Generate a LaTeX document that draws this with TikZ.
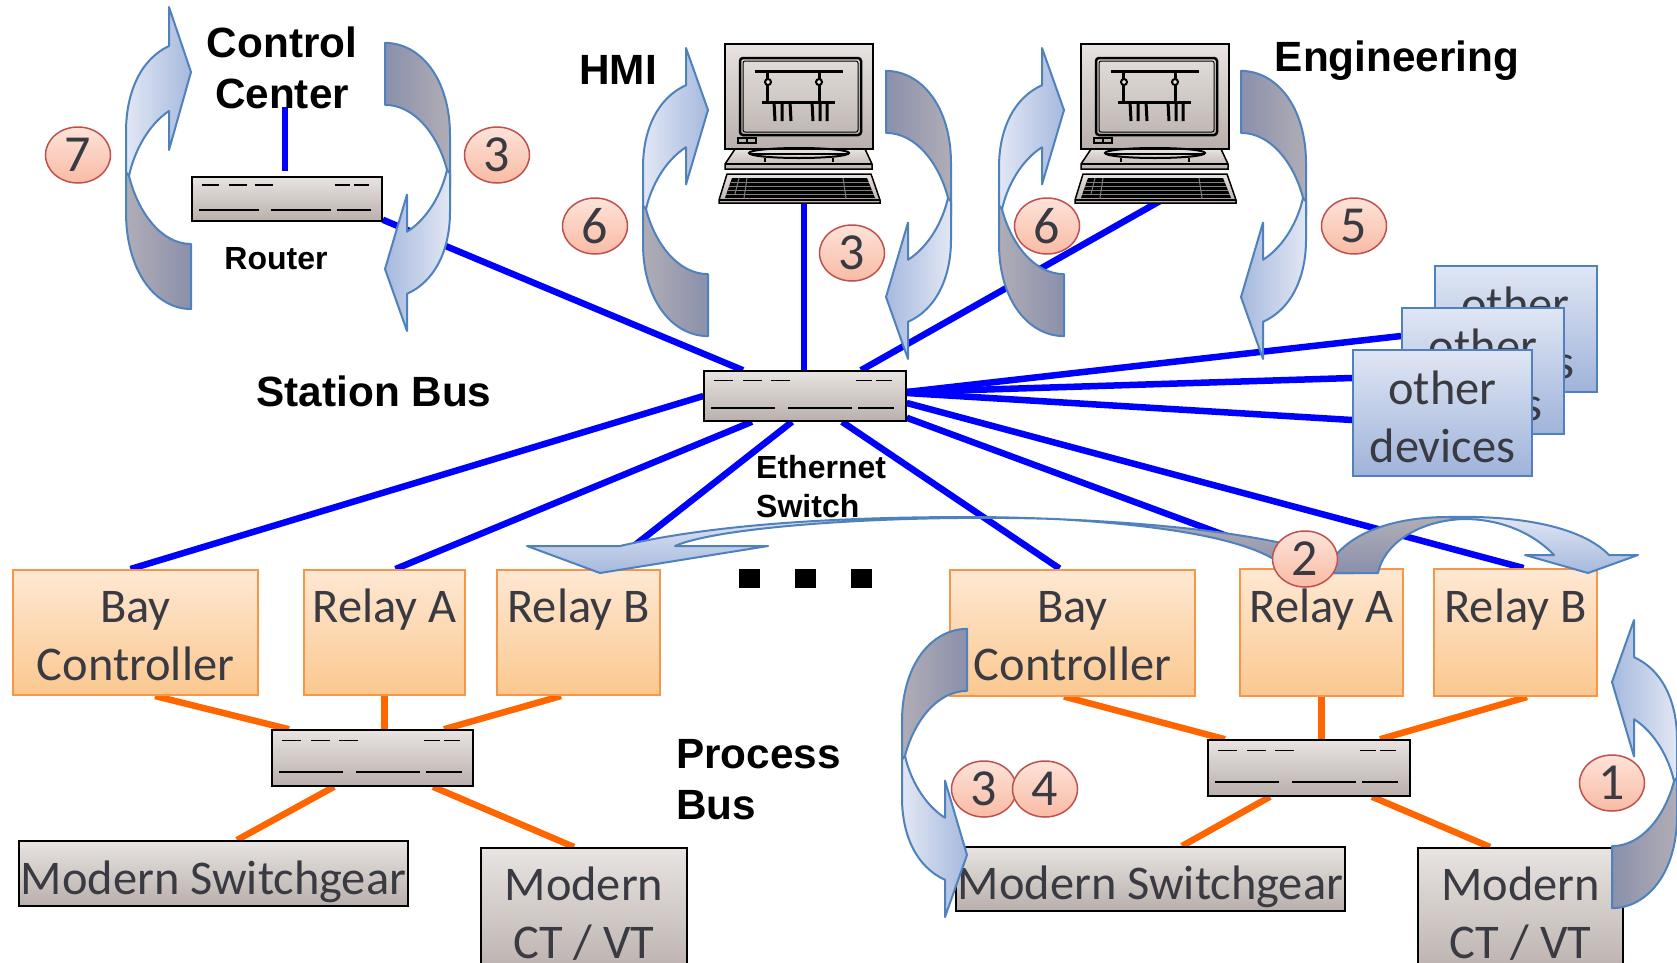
\documentclass[tikz,border=0pt]{standalone}
\usepackage{fontspec}
\usepackage{tikz}
\usetikzlibrary{shapes.geometric,backgrounds}
\setmainfont{Carlito}
\newfontfamily\headfont{Liberation Sans}

\definecolor{inktext}{HTML}{3A3A42}
\definecolor{turnedge}{HTML}{4F81BD}
\definecolor{relaytop}{HTML}{FEE8D3}
\definecolor{relaylow}{HTML}{FBC88F}
\definecolor{relayedge}{HTML}{F79646}
\definecolor{geartop}{HTML}{E8E4E1}
\definecolor{gearlow}{HTML}{B9AFAC}
\definecolor{devtop}{HTML}{E0E6F4}
\definecolor{devlow}{HTML}{9FB3DA}
\definecolor{badgetop}{HTML}{FDE3D8}
\definecolor{badgelow}{HTML}{F9BBA5}
\definecolor{badgeedge}{HTML}{C0504D}
\definecolor{frontlite}{HTML}{E2E7F4}
\definecolor{frontdark}{HTML}{A6B9DD}
\definecolor{backlite}{HTML}{B0ADB6}
\definecolor{backdark}{HTML}{8A90AB}
\definecolor{procorange}{HTML}{FF6600}
\tikzset{
  boxtext/.style={font=\fontsize{48.4}{58}\selectfont,text=inktext,align=center,inner sep=0pt},
  relaybox/.style={boxtext,draw=relayedge,line width=2pt,top color=relaytop,bottom color=relaylow,text height=95.4pt,text depth=0pt},
  gearbox/.style={boxtext,draw=black,line width=2pt,top color=geartop,bottom color=gearlow},
  flatgear/.style={gearbox,text height=41pt,text depth=0pt},
  devbox/.style={boxtext,draw=turnedge,line width=2pt,top color=devtop,bottom color=devlow,minimum width=162pt,minimum height=126pt,text height=99.4pt,text depth=0pt},
  swbox/.style={draw=black,line width=1.5pt,top color=geartop,bottom color=gearlow,inner sep=0pt},
  badge/.style={ellipse,draw=badgeedge,line width=1.5pt,top color=badgetop,bottom color=badgelow,minimum width=65pt,minimum height=56pt,inner sep=0pt,text=inktext,font=\fontsize{52}{52}\selectfont},
  headtext/.style={font=\headfont\bfseries\fontsize{42.3}{51}\selectfont,align=center,inner sep=0pt},
  smalltext/.style={font=\headfont\bfseries\fontsize{32}{39}\selectfont,align=left,inner sep=0pt},
  dotbox/.style={fill=black,minimum width=21pt,minimum height=19pt,inner sep=0pt},
  busline/.style={draw=blue,line width=6.5pt},
  procline/.style={draw=procorange,line width=6.5pt},
  turnline/.style={draw=turnedge,line width=2pt,line join=round},
  frontR/.style={left color=frontlite,right color=frontdark},
  frontL/.style={left color=frontdark,right color=frontlite},
  backR/.style={left color=backlite,right color=backdark},
  backL/.style={left color=backdark,right color=backlite},
  frontV/.style={top color=frontlite,bottom color=frontdark},
  backV/.style={top color=backlite,bottom color=backdark},
}

\newcommand{\switchlines}[3]{% node, xscale, yscale
\begin{scope}[shift={(#1.north west)},xscale=#2,yscale=#3]
\draw[line width=1.5pt] (11,10) -- (30,10) (40,10) -- (59,10) (68,10) -- (87,10) (153,10) -- (169,10) (173,10) -- (189,10);
\draw[line width=2pt] (8,38) -- (72,38) (85,38) -- (149,38) (155,38) -- (191,38);
\end{scope}}

\newcommand{\turnarrow}[3]{% placement, front, back
\begin{scope}[#1]
\path[turnline,#3] (65,237) .. controls (35,237) and (12,205) .. (3,169) -- (0,150) -- (0,205) .. controls (0,265) and (30,302) .. (65,302) -- cycle;
\path[turnline,#2] (43,39) .. controls (15,52) and (0,85) .. (0,125) -- (0,165) -- (3,169) .. controls (8,145) and (22,118) .. (43,104) -- (43,143) -- (65,65) -- (43,0) -- cycle;
\end{scope}}

\newcommand{\terminal}[1]{% top left of monitor
\begin{scope}[shift={#1}]
\draw[line width=1.5pt,top color=geartop,bottom color=gearlow] (0,0) rectangle (148,105);
\draw[line width=2.5pt,rounded corners=3pt] (15,14) rectangle (136,91);
\draw[line width=1pt,rounded corners=2pt] (18,17) rectangle (133,88);
\draw[line width=3pt] (30,27) -- (118,27) (37,58) -- (110,58) (42,27) -- (42,58) (94,27) -- (94,58);
\draw[line width=2pt,fill=geartop] (43,38) circle (3pt) (94,38) circle (3pt);
\draw[line width=3pt] (49,58) -- (50,77) (57,58) -- (57,77) (65,58) -- (66,77) (87,58) -- (88,77) (95,58) -- (95,77) (102,58) -- (102,77);
\draw[line width=1.2pt,fill=gearlow] (13,94) rectangle (22,99) (22,94) rectangle (31,99);
\draw[line width=1.5pt,top color=geartop,bottom color=gearlow] (10,105) -- (140,105) -- (147,120) -- (147,125) -- (0,125) -- (0,120) -- cycle;
\draw[line width=1.5pt] (0,120) -- (147,120);
\draw[line width=2pt] (74,109) ellipse (50pt and 5pt);
\draw[line width=1.5pt] (24,110) -- (124,110) (40,114) -- (40,118) (108,114) -- (108,118);
\draw[line width=1.5pt,top color=geartop,bottom color=gearlow] (2,130) -- (146,130) -- (155,156) -- (155,159) -- (-6,159) -- (-6,156) -- cycle;
\draw[line width=1.5pt] (-6,156) -- (155,156);
\fill[black] (7,134) -- (142,134) -- (150,154) -- (0,154) -- cycle;
\draw[line width=.8pt,gray] (6,138) -- (144,138) (4,142) -- (146,142) (3,146) -- (147,146) (1,150) -- (149,150);
\draw[line width=1pt,gray] (22,134) -- (19,154) (118,134) -- (121,154) (14,134) -- (10,150);
\end{scope}}

\begin{document}
\begin{tikzpicture}[x=1pt,y=-1pt]
\useasboundingbox (0,0) rectangle (1677,962);
\clip (0,0) rectangle (1677,962);
\node[swbox,minimum width=190pt,minimum height=44pt] (router) at (287,199) {};
\node[swbox,minimum width=202pt,minimum height=50pt] (netsw) at (805,396) {};
\node[swbox,minimum width=201pt,minimum height=56pt] (swL) at (372.5,758) {};
\node[swbox,minimum width=202pt,minimum height=56pt] (swR) at (1309,768) {}; % switches
\switchlines{router}{.94}{.88}
\switchlines{netsw}{1}{1}
\switchlines{swL}{1}{1.12}
\switchlines{swR}{1}{1.12}
\node[relaybox,minimum width=245pt,minimum height=125pt] (bayL) at (135.5,632.5) {Bay\\Controller};
\node[relaybox,minimum width=161pt,minimum height=125pt] (relayAL) at (384.5,632.5) {Relay A\\~};
\node[relaybox,minimum width=163pt,minimum height=125pt] (relayBL) at (578.5,632.5) {Relay B\\~};
\node[relaybox,minimum width=245pt,minimum height=126pt] (bayR) at (1072.5,632.5) {Bay\\Controller};
\node[relaybox,minimum width=163pt,minimum height=127pt] (relayAR) at (1321.5,632.5) {Relay A\\~};
\node[relaybox,minimum width=163pt,minimum height=127pt] (relayBR) at (1515.5,632.5) {Relay B\\~}; % relays
\node[flatgear,minimum width=389pt,minimum height=65pt] (gearL) at (213.5,873.5) {Modern Switchgear};
\node[gearbox,minimum width=206pt,minimum height=132pt] (ctL) at (584,914) {Modern\\CT / VT};
\node[flatgear,minimum width=389pt,minimum height=64pt] (gearR) at (1150.5,879) {Modern Switchgear};
\node[gearbox,minimum width=205pt,minimum height=132pt] (ctR) at (1520.5,914) {Modern\\CT / VT}; % primary gear
\node[devbox] (devC) at (1515.5,329) {other\\\makebox[118pt][r]{devices}};
\node[devbox] (devB) at (1483,371) {other\\\makebox[118pt][r]{devices}};
\node[devbox,minimum width=179pt] (devA) at (1442.5,412.5) {other\\devices}; % stacked boxes
\node[dotbox] (dotA) at (749.5,578.5) {};
\node[dotbox] (dotB) at (805.5,578.5) {};
\node[dotbox] (dotC) at (861.5,578.5) {};
\node[headtext] (ctrl) at (282,68) {Control\\Center};
\node[headtext] (hmi) at (618,70) {HMI};
\node[headtext] (eng) at (1397,61) {Engineering};
\node[headtext] (stbus) at (374,391) {Station Bus};
\node[headtext,align=left,anchor=west] (prbus) at (676,780) {Process\\Bus};
\node[smalltext] (rtlabel) at (276,259) {Router};
\node[smalltext,anchor=west] (swlabel) at (756,487) {Ethernet\\Switch}; % labels
\terminal{(725,44)}
\terminal{(1081,44)}
\coordinate (ctrlport) at (285,107);
\coordinate (hmiport) at (804,203);
\coordinate (engport) at (1160,201);
\begin{scope}[on background layer]
\draw[busline] (ctrlport) -- ([xshift=-2pt,yshift=5pt]router.north);
\draw[busline] ([yshift=2pt]router.south east) -- ([xshift=-62pt]netsw.north);
\draw[busline] (hmiport) -- ([xshift=-1pt]netsw.north);
\draw[busline] (engport) -- ([xshift=56pt]netsw.north);
\draw[busline] ([yshift=4pt]netsw.east) -- ([yshift=35pt]devB.west);
\draw[busline] ([yshift=4pt]netsw.east) -- ([yshift=34.5pt]devA.west);
\draw[busline] ([yshift=3pt]netsw.east) -- ([yshift=-7.5pt]devA.west); % top bus
\draw[busline] (netsw.west) -- ([xshift=-5pt]bayL.north);
\draw[busline] ([xshift=-53pt]netsw.south) -- ([xshift=11pt]relayAL.north);
\draw[busline] ([xshift=-13pt]netsw.south) -- ([xshift=26pt]relayBL.north);
\draw[busline] ([xshift=37pt]netsw.south) -- ([xshift=-13pt]bayR.north);
\draw[busline] ([yshift=4pt]netsw.south east) -- ([xshift=-8pt]relayAR.north);
\draw[busline] ([yshift=-7pt]netsw.east) -- ([xshift=8pt]relayBR.north); % lower bus
\draw[procline] ([xshift=19.5pt]bayL.south) -- ([xshift=-83.5pt]swL.north);
\draw[procline] (relayAL.south) -- ([xshift=12pt]swL.north);
\draw[procline] ([xshift=-17.5pt]relayBL.south) -- ([xshift=71.5pt]swL.north);
\draw[procline] ([xshift=-38.5pt]swL.south) -- ([xshift=23.5pt]gearL.north);
\draw[procline] ([xshift=60.5pt]swL.south) -- ([xshift=-10pt]ctL.north);
\draw[procline] ([xshift=-8.5pt]bayR.south) -- ([xshift=-84pt]swR.north);
\draw[procline] (relayAR.south) -- ([xshift=12.5pt]swR.north);
\draw[procline] ([xshift=11.5pt]relayBR.south) -- ([xshift=71pt]swR.north);
\draw[procline] ([xshift=-39pt]swR.south) -- ([xshift=31.5pt]gearR.north);
\draw[procline] ([xshift=63pt]swR.south) -- ([xshift=-30.5pt]ctR.north); % process bus
\end{scope}
\turnarrow{shift={(126,7)}}{frontR}{backR}
\turnarrow{shift={(450,331)},xscale=-1,yscale=-.954}{frontL}{backL}
\turnarrow{shift={(643,48)},yscale=.954}{frontR}{backR}
\turnarrow{shift={(951,359)},xscale=-1,yscale=-.954}{frontL}{backL}
\turnarrow{shift={(999,48)},yscale=.954}{frontR}{backR}
\turnarrow{shift={(1306,359)},xscale=-1,yscale=-.954}{frontL}{backL}
\turnarrow{shift={(902,917)},yscale=-.954}{frontR}{backR}
\turnarrow{shift={(1677,620)},xscale=-1,yscale=.954}{frontL}{backL} % side arrows
\path[turnline,backV] (1055,519) .. controls (1150,523) and (1260,532) .. (1338,558) .. controls (1346,563) and (1351,568) .. (1354,573) -- (1290,573) .. controls (1268,543) and (1180,526) .. (1055,519) -- cycle;
\path[turnline,frontV] (620,546) .. controls (710,525) and (830,517) .. (970,517) .. controls (1000,517) and (1030,518) .. (1055,519) .. controls (900,514) and (720,526) .. (675,546) -- (768,546) -- (600,573) -- (527,546) -- cycle;
\path[turnline,backV] (1325,573) .. controls (1340,535) and (1390,517) .. (1448,517) -- (1467,519) .. controls (1425,519) and (1385,540) .. (1378,573) -- cycle;
\path[turnline,frontV] (1448,517) .. controls (1530,515) and (1585,530) .. (1609,555) -- (1638,555) -- (1588,573) -- (1525,555) -- (1554,555) .. controls (1535,535) and (1505,520) .. (1467,519) -- cycle; % top arrows
\node[badge] (numG) at (78,155) {7};
\node[badge] (numCa) at (497,155) {3};
\node[badge] (numFa) at (595,226) {6};
\node[badge] (numCb) at (852,253) {3};
\node[badge] (numFb) at (1047,226) {6};
\node[badge] (numE) at (1354,226) {5};
\node[badge] (numB) at (1305,559) {2};
\node[badge] (numCc) at (984,789) {3};
\node[badge] (numD) at (1045,789) {4};
\node[badge] (numA) at (1612,783) {1};
\end{tikzpicture}
\end{document}
